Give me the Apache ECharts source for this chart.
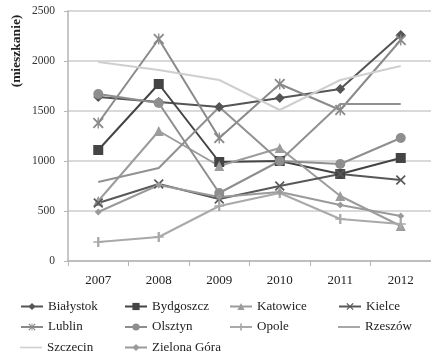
<!DOCTYPE html>
<html>
<head>
<meta charset="utf-8">
<script src="https://cdn.jsdelivr.net/npm/echarts@6/dist/echarts.min.js"></script>
<style>
  html, body { margin: 0; padding: 0; background: #fff; }
  #chart { width: 431px; height: 362px; }
</style>
</head>
<body>
<div id="chart"></div>
<script>
// Years on the category axis
const years = ['2007', '2008', '2009', '2010', '2011', '2012'];

// Dwellings per city
const bialystok   = [1640, 1590, 1540, 1630, 1720, 2260];
const bydgoszcz   = [1110, 1770, 990, 1000, 870, 1030];
const katowice    = [600, 1300, 950, 1130, 650, 350];
const kielce      = [580, 770, 620, 750, 870, 810];
const lublin      = [1380, 2220, 1230, 1770, 1510, 2210];
const olsztyn     = [1670, 1580, 680, 1000, 970, 1230];
const opole       = [190, 240, 550, 680, 420, 370];
const rzeszow     = [790, 930, 1540, 1000, 1570, 1570];
const szczecin    = [1990, 1910, 1810, 1510, 1810, 1950];
const zielonaGora = [490, 760, 640, 690, 560, 450];

const yTicks = [0, 500, 1000, 1500, 2000, 2500];

// Stroke-like marker shapes
const crossPath = 'path://M0,1.2 L1.2,0 L5,3.8 L8.8,0 L10,1.2 L6.2,5 L10,8.8 L8.8,10 L5,6.2 L1.2,10 L0,8.8 L3.8,5 Z';
const starPath = crossPath + ' M4.4,0 L5.6,0 L5.6,10 L4.4,10 Z';
const plusPath = 'path://M4.3,0 L5.7,0 L5.7,10 L4.3,10 Z M2,4.3 L8,4.3 L8,5.7 L2,5.7 Z';
// Plain line icon for series drawn without markers
const linePath = 'path://M0,4.2 L22,4.2 L22,5.8 L0,5.8 Z';

const defs = [
  { name: 'Białystok',    data: bialystok,   color: '#555555', symbol: 'diamond', size: 10 },
  { name: 'Bydgoszcz',    data: bydgoszcz,   color: '#444444', symbol: 'rect',    size: 10 },
  { name: 'Katowice',     data: katowice,    color: '#9c9c9c', symbol: 'triangle', size: 10 },
  { name: 'Kielce',       data: kielce,      color: '#585858', symbol: crossPath, size: 10 },
  { name: 'Lublin',       data: lublin,      color: '#8a8a8a', symbol: starPath,  size: 11 },
  { name: 'Olsztyn',      data: olsztyn,     color: '#8e8e8e', symbol: 'circle',  size: 10 },
  { name: 'Opole',        data: opole,       color: '#a9a9a9', symbol: plusPath,  size: 10 },
  { name: 'Rzeszów',      data: rzeszow,     color: '#919191', symbol: 'none',    size: 0 },
  { name: 'Szczecin',     data: szczecin,    color: '#cfcfcf', symbol: 'none',    size: 0 },
  { name: 'Zielona Góra', data: zielonaGora, color: '#9a9a9a', symbol: 'diamond', size: 7 }
];

// Legend grid: 4 columns, 3 rows, filled row by row
const legendCols = [20, 124, 229, 338];
const legendRows = [300, 320.5, 341];

const serif = '"Liberation Serif", "DejaVu Serif", serif';

const series = defs.map(d => ({
  name: d.name,
  type: 'line',
  data: d.data,
  symbol: d.symbol,
  symbolSize: d.size,
  showSymbol: d.symbol !== 'none',
  lineStyle: { color: d.color, width: 2 },
  itemStyle: { color: d.color, borderWidth: 0 },
  emphasis: { disabled: true },
  animation: false
}));

const legends = defs.map((d, i) => ({
  data: [d.symbol === 'none'
    ? { name: d.name, icon: linePath, itemStyle: { color: d.color } }
    : d.name],
  left: legendCols[i % 4],
  top: legendRows[Math.floor(i / 4)],
  padding: 0,
  itemWidth: 22,
  itemHeight: 9,
  textStyle: { fontFamily: serif, fontSize: 13, color: '#222' },
  selectedMode: false
}));

const chart = echarts.init(document.getElementById('chart'), null, { renderer: 'canvas' });
chart.setOption({
  backgroundColor: '#ffffff',
  animation: false,
  grid: { left: 68, top: 11, right: -10, bottom: 101, containLabel: false },
  xAxis: {
    type: 'category',
    data: years,
    boundaryGap: true,
    axisLine: { lineStyle: { color: '#b5b5b5', width: 1.5 } },
    axisTick: { show: true, length: 5, lineStyle: { color: '#b5b5b5' } },
    axisLabel: { fontFamily: serif, fontSize: 13, color: '#222', margin: 13 },
    splitLine: { show: false }
  },
  yAxis: {
    type: 'value',
    min: yTicks[0],
    max: yTicks[yTicks.length - 1],
    interval: 500,
    axisLine: { show: true, lineStyle: { color: '#b5b5b5', width: 1.5 } },
    axisTick: { show: true, length: 4, lineStyle: { color: '#b5b5b5' } },
    axisLabel: {
      fontFamily: serif, fontSize: 11.5, color: '#333', margin: 13,
      formatter: v => String(v)
    },
    splitLine: { show: true, lineStyle: { color: '#cccccc', width: 1.5 } }
  },
  legend: legends,
  graphic: [{
    type: 'text',
    x: 17,
    y: 51,
    rotation: Math.PI / 2,
    style: {
      text: '(mieszkanie)',
      font: 'bold 13.5px ' + serif,
      fill: '#222',
      textAlign: 'center',
      textVerticalAlign: 'middle'
    }
  }],
  series: series
});
</script>
</body>
</html>
